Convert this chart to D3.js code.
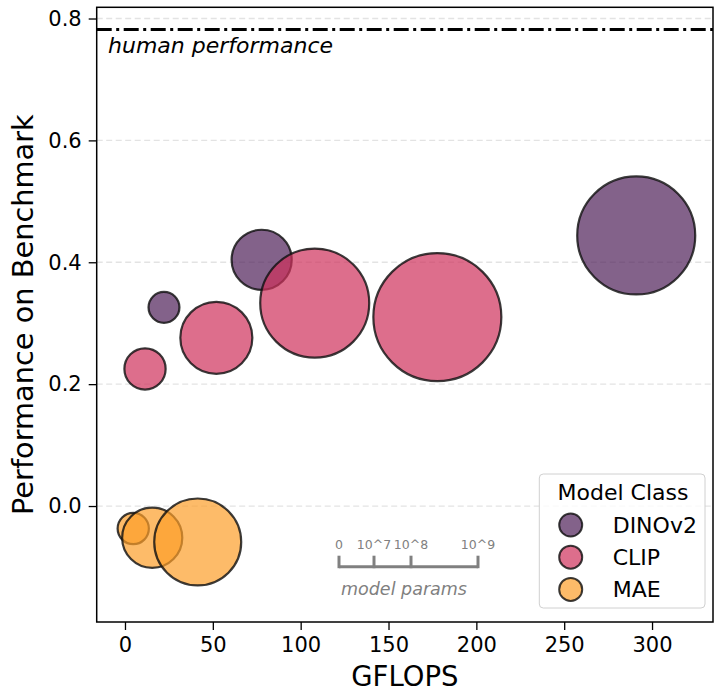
<!DOCTYPE html>
<html>
<head>
<meta charset="utf-8">
<script src="https://cdn.jsdelivr.net/npm/d3@7"></script>
<style>
  body { margin: 0; background: #fff; }
  svg { font-family: "DejaVu Sans", sans-serif; }
</style>
</head>
<body>
<svg id="chart" width="715" height="691"></svg>
<script>
// model classes and their colours
var classes = ["DINOv2", "CLIP", "MAE"];
var colors = ["#4e1f58", "#ce305b", "#fc9e2a"];

// one array per class: GFLOPS, benchmark score, model params
var dinoGflops = [22.2, 77.8, 291];
var dinoScore = [0.326, 0.404, 0.444];
var dinoParams = [9.4e6, 7.6e7, 7.45e8];

var clipGflops = [11.4, 52, 108, 177.8];
var clipScore = [0.225, 0.276, 0.333, 0.310];
var clipParams = [3.0e7, 1.27e8, 6.24e8, 8.79e8];

var maeGflops = [4.7, 15.5, 41.4];
var maeScore = [-0.037, -0.052, -0.059];
var maeParams = [9.5e6, 7.6e7, 3.28e8];

var humanPerformance = 0.782;

var xTicks = [0, 50, 100, 150, 200, 250, 300];
var yTicks = [0.0, 0.2, 0.4, 0.6, 0.8];
var sizeTicks = [0, 1e7, 1e8, 1e9];
var sizeTickLabels = ["0", "10^7", "10^8", "10^9"];

// build rows, drawn in class order (DINOv2 below CLIP below MAE)
function rows(cls, g, s, p) {
    return g.map(function (d, i) { return {cls: cls, gflops: d, score: s[i], params: p[i]}; });
}
var points = [].concat(
    rows("DINOv2", dinoGflops, dinoScore, dinoParams),
    rows("CLIP", clipGflops, clipScore, clipParams),
    rows("MAE", maeGflops, maeScore, maeParams)
);

// plot box (note: "top" is reserved on window, so use other names)
var pLeft = 96.7, pTop = 7.3, pRight = 713, pBottom = 622;

var svg = d3.select("#chart");

var x = d3.scaleLinear().domain([-16.1, 334.7]).range([pLeft, pRight]);
var y = d3.scaleLinear().domain([-0.1903, 0.8184]).range([pBottom, pTop]);
var color = d3.scaleOrdinal().domain(classes).range(colors);
// params -> bubble diameter in px (same scale as the little size bar)
var size = d3.scaleLinear().domain(sizeTicks).range([0, 35, 72, 139]);

// horizontal dashed grid
svg.append("g").selectAll("line")
    .data(yTicks).enter()
    .append("line")
    .attr("x1", pLeft).attr("x2", pRight)
    .attr("y1", function (d) { return y(d); })
    .attr("y2", function (d) { return y(d); })
    .attr("stroke", "#e3e3e3")
    .attr("stroke-width", 1.3)
    .attr("stroke-dasharray", "6,3.5");

// human performance line
svg.append("line")
    .attr("x1", pLeft).attr("x2", pRight)
    .attr("y1", y(humanPerformance)).attr("y2", y(humanPerformance))
    .attr("stroke", "#000")
    .attr("stroke-width", 3)
    .attr("stroke-dasharray", "15,4.5,3,4.5");

svg.append("text")
    .attr("x", 108).attr("y", 53.3)
    .attr("font-size", 22)
    .attr("font-style", "italic")
    .text("human performance");

// bubbles
svg.append("g").selectAll("circle")
    .data(points).enter()
    .append("circle")
    .attr("cx", function (d) { return x(d.gflops); })
    .attr("cy", function (d) { return y(d.score); })
    .attr("r", function (d) { return size(d.params) / 2 - 1; })
    .attr("fill", function (d) { return color(d.cls); })
    .attr("fill-opacity", 0.7)
    .attr("stroke", "#111")
    .attr("stroke-opacity", 0.82)
    .attr("stroke-width", 2.2);

// axes
var xAxis = svg.append("g")
    .attr("transform", "translate(0," + pBottom + ")")
    .call(d3.axisBottom(x).tickValues(xTicks).tickSize(8).tickPadding(7).tickFormat(d3.format("d")));
var yAxis = svg.append("g")
    .attr("transform", "translate(" + pLeft + ",0)")
    .call(d3.axisLeft(y).tickValues(yTicks).tickSize(8).tickPadding(7).tickFormat(d3.format(".1f")));

[xAxis, yAxis].forEach(function (a) {
    a.select(".domain").remove();
    a.selectAll(".tick line").attr("stroke", "#000").attr("stroke-width", 1.3);
    a.selectAll(".tick text")
        .attr("font-family", "DejaVu Sans, sans-serif")
        .attr("font-size", 21)
        .attr("fill", "#000");
});

// frame
svg.append("rect")
    .attr("x", pLeft).attr("y", pTop)
    .attr("width", pRight - pLeft).attr("height", pBottom - pTop)
    .attr("fill", "none")
    .attr("stroke", "#000")
    .attr("stroke-width", 1.5);

// axis labels
svg.append("text")
    .attr("x", (pLeft + pRight) / 2).attr("y", 685.5)
    .attr("text-anchor", "middle")
    .attr("font-size", 27.5)
    .text("GFLOPS");

svg.append("text")
    .attr("transform", "translate(33," + ((pTop + pBottom) / 2) + ") rotate(-90)")
    .attr("text-anchor", "middle")
    .attr("font-size", 28.8)
    .text("Performance on Benchmark");

// size bar for model params
var barX = 339, barY = 566.7;
var bar = svg.append("g").attr("transform", "translate(" + barX + "," + barY + ")");
bar.append("line")
    .attr("x1", size(0)).attr("x2", size(1e9))
    .attr("y1", 0).attr("y2", 0)
    .attr("stroke", "#808080").attr("stroke-width", 3);
bar.selectAll(".stick")
    .data(sizeTicks).enter()
    .append("line")
    .attr("x1", function (d) { return size(d); })
    .attr("x2", function (d) { return size(d); })
    .attr("y1", 1.5).attr("y2", -11)
    .attr("stroke", "#808080").attr("stroke-width", 3);
bar.selectAll(".slabel")
    .data(sizeTicks).enter()
    .append("text")
    .attr("x", function (d) { return size(d); })
    .attr("y", -17.5)
    .attr("text-anchor", "middle")
    .attr("font-size", 12.5)
    .attr("fill", "#808080")
    .text(function (d, i) { return sizeTickLabels[i]; });
bar.append("text")
    .attr("x", 65).attr("y", 28.5)
    .attr("text-anchor", "middle")
    .attr("font-size", 17.5)
    .attr("font-style", "italic")
    .attr("fill", "#808080")
    .text("model params");

// legend
var lg = svg.append("g");
lg.append("rect")
    .attr("x", 539.3).attr("y", 474)
    .attr("width", 165.7).attr("height", 134)
    .attr("rx", 4)
    .attr("fill", "#fff").attr("fill-opacity", 0.8)
    .attr("stroke", "#d0d0d0");
lg.append("text")
    .attr("x", 623).attr("y", 500)
    .attr("text-anchor", "middle")
    .attr("font-size", 22)
    .text("Model Class");
var item = lg.selectAll(".item")
    .data(classes).enter()
    .append("g")
    .attr("transform", function (d, i) { return "translate(0," + (525 + i * 32.2) + ")"; });
item.append("circle")
    .attr("cx", 570.7).attr("cy", 0).attr("r", 11.5)
    .attr("fill", function (d) { return color(d); })
    .attr("fill-opacity", 0.7)
    .attr("stroke", "#111").attr("stroke-opacity", 0.82).attr("stroke-width", 2);
item.append("text")
    .attr("x", 612.7).attr("y", 8)
    .attr("font-size", 22)
    .text(function (d) { return d; });
</script>
</body>
</html>
